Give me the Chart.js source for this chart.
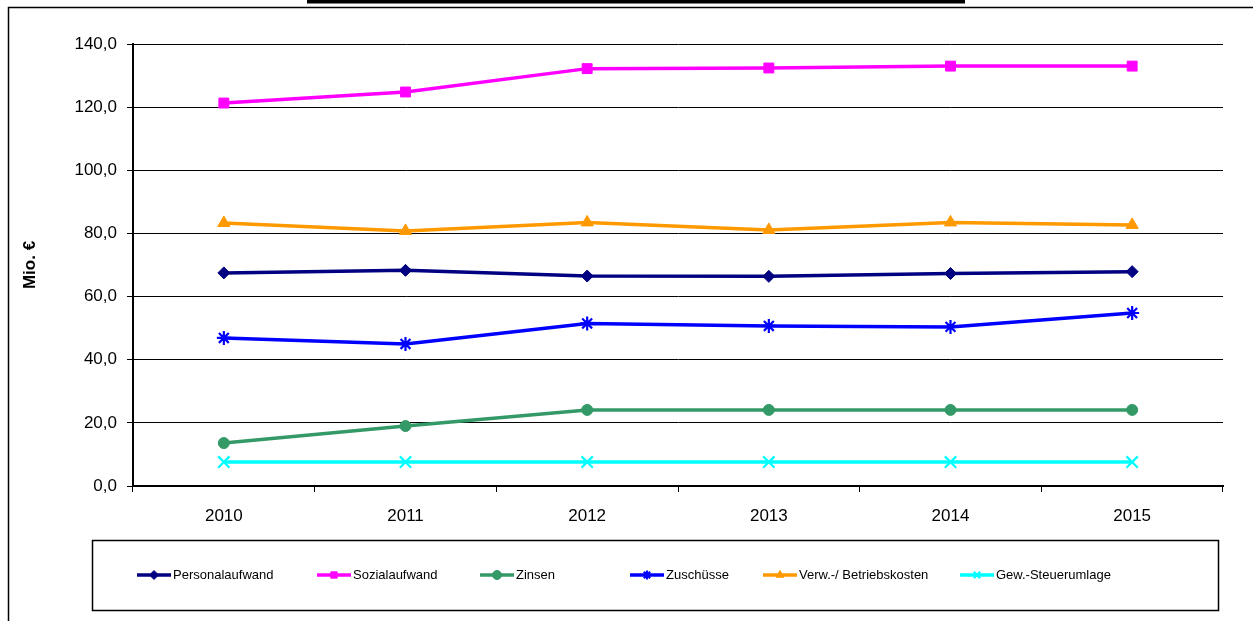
<!DOCTYPE html>
<html>
<head>
<meta charset="utf-8">
<script src="https://cdn.jsdelivr.net/npm/chart.js@4"></script>
<style>
  html, body { margin: 0; padding: 0; background: #fff; }
  canvas { display: block; }
</style>
</head>
<body>
<canvas id="chart" width="1253" height="621"></canvas>
<script>
// -------------------------
// Data
// -------------------------
const years = ['2010', '2011', '2012', '2013', '2014', '2015'];
const personalaufwand = [67.5, 68.3, 66.5, 66.4, 67.3, 67.9];
const sozialaufwand   = [121.3, 124.8, 132.2, 132.4, 133.0, 133.0];
const zinsen          = [13.6, 19.0, 24.1, 24.1, 24.1, 24.1];
const zuschuesse      = [46.9, 45.0, 51.5, 50.7, 50.4, 54.8];
const verwBetrieb     = [83.3, 80.8, 83.5, 81.1, 83.5, 82.7];
const gewSteuer       = [7.6, 7.6, 7.6, 7.6, 7.6, 7.6];
const yTicks = [0, 20, 40, 60, 80, 100, 120, 140];

const FONT = '"Liberation Sans", Arial, sans-serif';
// x position of each legend entry (line start)
const legendX = [137, 317, 480, 630, 763, 960];

function series(label, data, color, style, radius) {
    return {
        label: label,
        data: data,
        borderColor: color,
        backgroundColor: color,
        pointBackgroundColor: color,
        pointBorderColor: color,
        pointStyle: style,
        pointRadius: radius,
        pointBorderWidth: (style === 'star' || style === 'crossRot') ? 2.2 : 1,
        borderWidth: 3.5,
        tension: 0
    };
}

// -------------------------
// Frame, top bar and boxed legend
// -------------------------
const decorations = {
    id: 'decorations',
    afterDraw(chart) {
        const ctx = chart.ctx;
        ctx.save();
        // page frame
        ctx.strokeStyle = '#000';
        ctx.lineWidth = 1.5;
        ctx.strokeRect(8.5, 7.5, 1300, 700);
        // black bar at the top
        ctx.fillStyle = '#000';
        ctx.fillRect(307, 0, 658, 3.5);

        // legend box
        const box = { x: 92, y: 540, w: 1126, h: 70 };
        ctx.lineWidth = 1.5;
        ctx.strokeRect(box.x + 0.5, box.y + 0.5, box.w, box.h);

        ctx.font = '13px ' + FONT;
        ctx.textBaseline = 'middle';
        ctx.textAlign = 'left';
        const y = box.y + 35;
        chart.data.datasets.forEach((ds, i) => {
            const x = legendX[i];
            ctx.strokeStyle = ds.borderColor;
            ctx.lineWidth = 3.5;
            ctx.beginPath();
            ctx.moveTo(x, y);
            ctx.lineTo(x + 34, y);
            ctx.stroke();
            ctx.fillStyle = ds.borderColor;
            ctx.lineWidth = ds.pointBorderWidth;
            Chart.helpers.drawPoint(ctx, {
                pointStyle: ds.pointStyle,
                radius: Math.min(ds.pointRadius, 4.5),
                borderWidth: ds.pointBorderWidth,
                rotation: 0
            }, x + 17, y);
            ctx.fillStyle = '#000';
            ctx.fillText(ds.label, x + 36, y);
        });
        ctx.restore();
    }
};

// -------------------------
// Chart
// -------------------------
const ctx = document.getElementById('chart').getContext('2d');

new Chart(ctx, {
    type: 'line',
    data: {
        labels: years,
        datasets: [
            series('Personalaufwand', personalaufwand, '#000080', 'rectRot', 6),
            series('Sozialaufwand', sozialaufwand, '#FF00FF', 'rect', 7),
            series('Zinsen', zinsen, '#339966', 'circle', 5.5),
            series('Zuschüsse', zuschuesse, '#0000FF', 'star', 7),
            series('Verw.-/ Betriebskosten', verwBetrieb, '#FF9900', 'triangle', 7),
            series('Gew.-Steuerumlage', gewSteuer, '#00FFFF', 'crossRot', 8)
        ]
    },
    options: {
        responsive: false,
        animation: false,
        layout: {
            padding: { top: 44, right: 30, bottom: 90, left: 0 }
        },
        plugins: {
            legend: { display: false },
            tooltip: { enabled: false }
        },
        scales: {
            x: {
                offset: true,
                grid: {
                    offset: true,
                    drawOnChartArea: false,
                    drawTicks: true,
                    tickLength: 6,
                    color: '#000'
                },
                border: { color: '#000', width: 2 },
                ticks: {
                    color: '#000',
                    padding: 14,
                    font: { family: FONT, size: 17 }
                },
                afterFit(scale) { scale.height = 45; }
            },
            y: {
                min: 0,
                max: 140,
                afterBuildTicks(scale) {
                    scale.ticks = yTicks.map(v => ({ value: v }));
                },
                grid: {
                    color: '#000',
                    lineWidth: 1,
                    tickLength: 6
                },
                border: { color: '#000', width: 2 },
                ticks: {
                    color: '#000',
                    padding: 10,
                    font: { family: FONT, size: 17 },
                    callback: v => v.toFixed(1).replace('.', ',')
                },
                title: {
                    display: true,
                    text: 'Mio. €',
                    color: '#000',
                    padding: { top: 20, bottom: 0 },
                    font: { family: FONT, size: 17, weight: 'bold' }
                },
                afterFit(scale) { scale.width = 133; }
            }
        }
    },
    plugins: [decorations]
});
</script>
</body>
</html>
